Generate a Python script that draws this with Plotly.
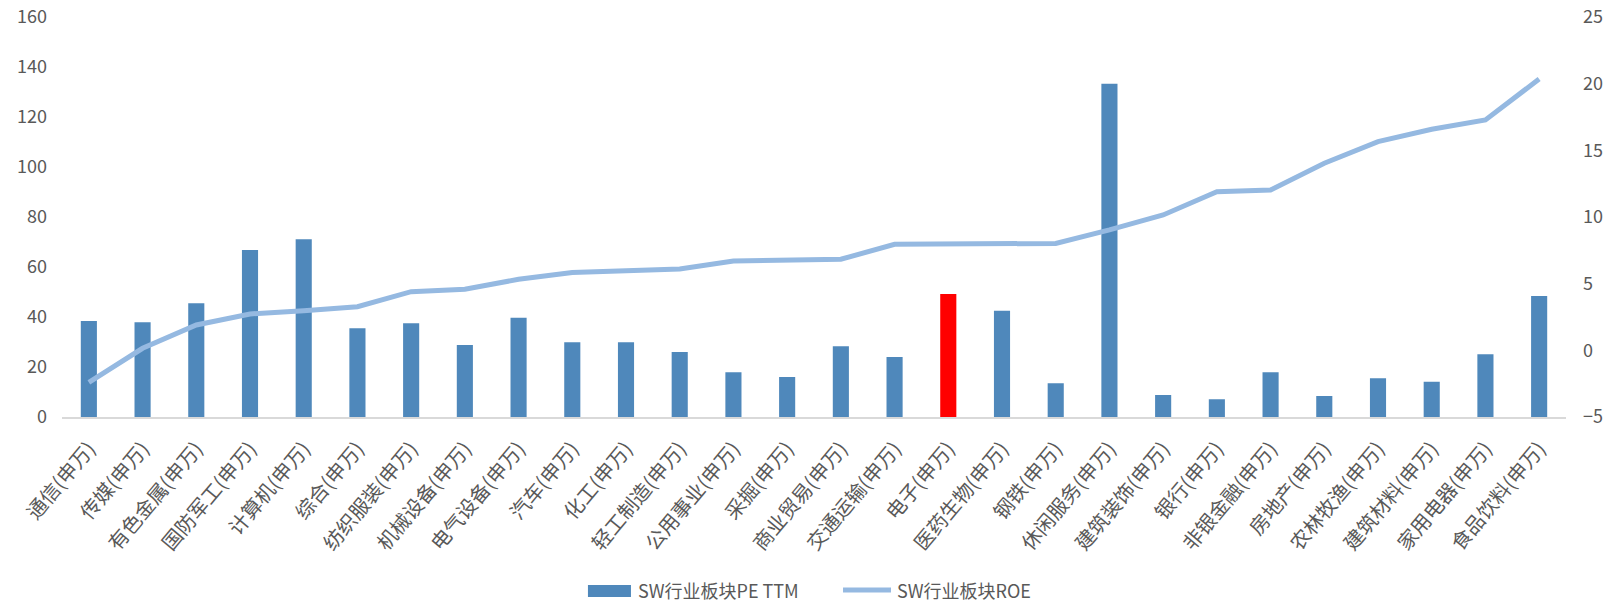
import plotly.graph_objects as go

categories = ["通信(申万)", "传媒(申万)", "有色金属(申万)", "国防军工(申万)", "计算机(申万)",
              "综合(申万)", "纺织服装(申万)", "机械设备(申万)", "电气设备(申万)", "汽车(申万)",
              "化工(申万)", "轻工制造(申万)", "公用事业(申万)", "采掘(申万)", "商业贸易(申万)",
              "交通运输(申万)", "电子(申万)", "医药生物(申万)", "钢铁(申万)", "休闲服务(申万)",
              "建筑装饰(申万)", "银行(申万)", "非银金融(申万)", "房地产(申万)", "农林牧渔(申万)",
              "建筑材料(申万)", "家用电器(申万)", "食品饮料(申万)"]

pe_ttm = [38.4, 37.9, 45.5, 66.8, 71.1, 35.5, 37.5, 28.8, 39.7, 29.9,
          29.9, 26.0, 17.9, 16.0, 28.3, 24.0, 49.2, 42.5, 13.5, 133.3,
          8.8, 7.1, 17.9, 8.4, 15.5, 14.1, 25.1, 48.4]

roe = [-2.4, 0.15, 1.9, 2.73, 2.97, 3.27, 4.4, 4.58, 5.33, 5.83,
       5.97, 6.1, 6.7, 6.72, 6.83, 7.95, 8.0, 8.02, 8.02, 9.03,
       10.15, 11.9, 12.03, 14.03, 15.65, 16.58, 17.28, 20.35]

pe_name = "SW行业板块PE TTM"
roe_name = "SW行业板块ROE"
highlight = "电子(申万)"

bar_blue = "#4F88BB"
line_blue = "#95B9E1"
bar_colors = ["#FF0000" if c == highlight else bar_blue for c in categories]

font_family = "Noto Sans CJK SC, Noto Sans, sans-serif"
grey = "#595959"

fig = go.Figure()
fig.add_trace(go.Bar(
    x=categories, y=pe_ttm, name=pe_name,
    marker=dict(color=bar_colors, line=dict(width=0)),
    width=0.30, yaxis="y", showlegend=False,
))
fig.add_trace(go.Scatter(
    x=categories, y=roe, name=roe_name, mode="lines",
    line=dict(color=line_blue, width=5), yaxis="y2", showlegend=False,
))

# custom legend (swatches + text) below the plot
fig.add_shape(type="rect", xref="paper", yref="paper",
              x0=0.3497, x1=0.3783, y0=-0.45, y1=-0.42,
              fillcolor=bar_blue, line=dict(width=0))
fig.add_annotation(xref="paper", yref="paper", x=0.3816, y=-0.4325,
                   text=pe_name, showarrow=False, xanchor="left", yanchor="middle",
                   font=dict(size=18, color=grey, family=font_family))
fig.add_shape(type="line", xref="paper", yref="paper",
              x0=0.5193, x1=0.5512, y0=-0.4325, y1=-0.4325,
              line=dict(color=line_blue, width=5))
fig.add_annotation(xref="paper", yref="paper", x=0.5539, y=-0.4325,
                   text=roe_name, showarrow=False, xanchor="left", yanchor="middle",
                   font=dict(size=18, color=grey, family=font_family))

fig.update_layout(
    width=1609, height=604,
    margin=dict(l=62, r=43, t=17, b=187, autoexpand=False),
    paper_bgcolor="white", plot_bgcolor="white",
    font=dict(family=font_family, color=grey, size=18),
    showlegend=False,
    xaxis=dict(
        type="category", tickangle=-50, showgrid=False, zeroline=False,
        showline=True, linecolor="#D9D9D9", linewidth=2, ticks="",
        tickfont=dict(size=20, color=grey), automargin=False,
        ticklabelstandoff=10,
    ),
    yaxis=dict(
        range=[0, 160], dtick=20, showgrid=False, zeroline=False,
        showline=False, ticks="", tickfont=dict(size=18, color=grey),
        automargin=False, ticklabelstandoff=14,
    ),
    yaxis2=dict(
        range=[-5, 25], dtick=5, overlaying="y", side="right",
        showgrid=False, zeroline=False, showline=False, ticks="",
        tickfont=dict(size=18, color=grey), automargin=False,
        ticklabelstandoff=16,
    ),
)

# remove the browser's default 8px body margin so the figure fills the window
fig.write_html("out.html", config={"displayModeBar": False},
               post_script="document.body.style.margin='0';")
